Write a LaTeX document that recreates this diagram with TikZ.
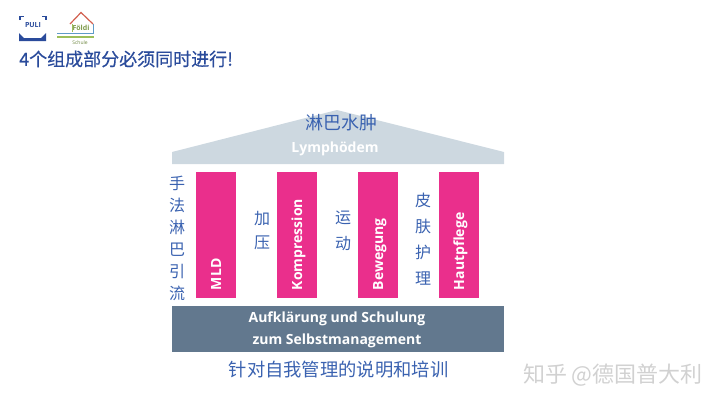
\documentclass[tikz,border=0pt]{standalone}
\usepackage{fontspec}
\setmainfont{Open Sans}
\newfontfamily\cjk{Noto Sans CJK SC}
\newfontfamily\cjkmed[FakeBold=0.5]{Noto Sans CJK SC}
\usetikzlibrary{positioning}
\definecolor{titleblue}{HTML}{2A4B9B}
\definecolor{cjkblue}{HTML}{3A62B0}
\definecolor{roofgray}{HTML}{CDD8E0}
\definecolor{basegray}{HTML}{62788E}
\definecolor{pillarpink}{HTML}{EA2F8C}
\definecolor{logored}{HTML}{D2604F}
\definecolor{logogreen}{HTML}{9CBF5A}
\definecolor{logoblue}{HTML}{5F9BC8}
\tikzset{
	pillar/.style={fill=pillarpink, text=white, rotate=90, minimum height=40pt, text width=110pt, text height=10pt, text depth=0pt, inner sep=8pt, align=left, font=\bfseries\fontsize{14}{16}\selectfont},
	cjklabel/.style={text=cjkblue, inner sep=0pt, align=center, font=\cjk\fontsize{16}{22}\selectfont},
	whitelabel/.style={text=white, inner sep=0pt, align=center, font=\bfseries\fontsize{14}{22}\selectfont}
}
\begin{document}
\begin{tikzpicture}[x=1pt,y=-1pt]
	\useasboundingbox (0,0) rectangle (720,405);

	% logos
	\draw[titleblue, line width=1.2pt] (20,20) -- (20,16.5) -- (24,16.5) (42,16.5) -- (46,16.5) -- (46,20);
	\fill[titleblue] (19,33) -- (24,38) -- (41,38) -- (46,33) -- (46,41) -- (19,41) -- cycle;
	\node[text=titleblue, inner sep=0pt, font=\bfseries\fontsize{7}{8}\selectfont] (puli) at (33,25) {PULI};
	\draw[logored, line width=1.2pt] (70,24) -- (81,12.5) -- (93,24);
	\draw[logogreen, line width=1pt] (72,24) -- (72,32);
	\draw[logoblue, line width=1pt] (93,24) -- (93,33) -- (57,33);
	\fill[logogreen] (57,35.5) rectangle (94,38);
	\node[text=logogreen!80!black, inner sep=0pt, font=\bfseries\fontsize{7}{8}\selectfont] (foeldi) at (81,28) {Földi};
	\node[text=logogreen!70!black, inner sep=0pt, font=\fontsize{5}{6}\selectfont] (schule) at (80,43) {Schule};

	\node[anchor=west, text=titleblue, inner sep=0pt, font=\cjkmed\fontsize{18}{20}\selectfont] (title) at (19,59) {4个组成部分必须同时进行!};

	% roof
	\fill[roofgray] (172,152) -- (337,110) -- (504,152) -- (504,164) -- (172,164) -- cycle;
	\node[cjklabel, font=\cjk\fontsize{18}{20}\selectfont] (lymphcn) at (341,123) {淋巴水肿};
	\node[whitelabel] (lymphde) at (335,148.5) {Lymphödem};

	% pillars
	\node[pillar] (mld) at (216,235) {MLD};
	\node[pillar] (kompression) at (297,235) {Kompression};
	\node[pillar] (bewegung) at (378,235) {Bewegung};
	\node[pillar] (hautpflege) at (459,235) {Hautpflege};

	\node[cjklabel] (drainage) at (177,238.5) {手\\法\\淋\\巴\\引\\流};
	\node[cjklabel, font=\cjk\fontsize{16}{24}\selectfont] (druck) at (262,231) {加\\压};
	\node[cjklabel, font=\cjk\fontsize{16}{26}\selectfont] (sport) at (343,231) {运\\动};
	\node[cjklabel, font=\cjk\fontsize{16}{26}\selectfont] (haut) at (423,239) {皮\\肤\\护\\理};

	% base
	\fill[basegray] (172,306) rectangle (504,352);
	\node[whitelabel] (schulung) at (337,330) {Aufklärung und Schulung\\zum Selbstmanagement};
	\node[cjklabel, font=\cjk\fontsize{18.3}{20}\selectfont] (schulungcn) at (338.5,370) {针对自我管理的说明和培训};

	\node[anchor=east, text=black!18, inner sep=0pt, font=\cjk\fontsize{22}{24}\selectfont] (mark) at (703,375) {知乎 @德国普大利};
\end{tikzpicture}
\end{document}
